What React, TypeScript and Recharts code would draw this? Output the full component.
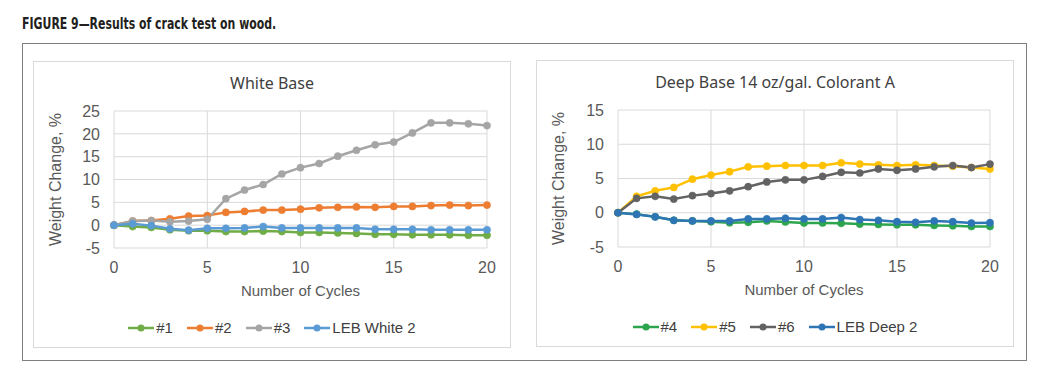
import { LineChart, Line, XAxis, YAxis, CartesianGrid, Label } from "recharts";

const cycles = [0, 1, 2, 3, 4, 5, 6, 7, 8, 9, 10, 11, 12, 13, 14, 15, 16, 17, 18, 19, 20];
const xTicks = [0, 5, 10, 15, 20];

// White Base
const white1 = [0, -0.3, -0.5, -1.0, -1.2, -1.2, -1.4, -1.4, -1.3, -1.4, -1.6, -1.6, -1.7, -1.8, -2.0, -2.0, -2.1, -2.1, -2.1, -2.2, -2.2];
const white2 = [0, 0.9, 1.0, 1.4, 2.0, 2.1, 2.8, 3.0, 3.3, 3.3, 3.5, 3.8, 3.9, 4.0, 3.9, 4.1, 4.1, 4.3, 4.4, 4.3, 4.4];
const white3 = [0, 0.9, 1.0, 0.75, 0.9, 1.3, 5.8, 7.7, 8.9, 11.2, 12.6, 13.5, 15.1, 16.4, 17.6, 18.2, 20.2, 22.4, 22.4, 22.2, 21.8];
const whiteLeb = [0, 0.3, -0.1, -0.8, -1.1, -0.7, -0.7, -0.6, -0.3, -0.6, -0.6, -0.6, -0.6, -0.6, -0.9, -0.9, -0.9, -1.0, -1.0, -1.0, -1.0];
const whiteTicks = [-5, 0, 5, 10, 15, 20, 25];

// Deep Base 14 oz/gal. Colorant A
const deep4 = [0, -0.2, -0.6, -1.1, -1.2, -1.3, -1.45, -1.4, -1.2, -1.35, -1.5, -1.5, -1.55, -1.65, -1.7, -1.75, -1.75, -1.85, -1.9, -2.0, -2.0];
const deep5 = [0, 2.4, 3.2, 3.7, 4.9, 5.5, 6.0, 6.7, 6.8, 6.9, 6.9, 6.9, 7.3, 7.1, 7.0, 6.9, 7.0, 6.9, 6.8, 6.6, 6.4];
const deep6 = [0, 2.1, 2.4, 2.0, 2.5, 2.8, 3.2, 3.8, 4.5, 4.8, 4.8, 5.3, 5.9, 5.8, 6.4, 6.2, 6.4, 6.7, 6.9, 6.6, 7.1];
const deepLeb = [0, -0.25, -0.6, -1.1, -1.2, -1.2, -1.2, -0.9, -0.9, -0.8, -0.9, -0.9, -0.7, -1.0, -1.1, -1.3, -1.4, -1.2, -1.3, -1.5, -1.45];
const deepTicks = [-5, 0, 5, 10, 15];

const FONT = '"Liberation Sans", Arial, sans-serif';
const TICK_COLOR = "#595959";

interface Series {
  key: string;
  name: string;
  color: string;
  values: number[];
}

const whiteSeries: Series[] = [
  { key: "s1", name: "#1", color: "#70ad47", values: white1 },
  { key: "s2", name: "#2", color: "#ed7d31", values: white2 },
  { key: "s3", name: "#3", color: "#a5a5a5", values: white3 },
  { key: "leb", name: "LEB White 2", color: "#5b9bd5", values: whiteLeb },
];

const deepSeries: Series[] = [
  { key: "s4", name: "#4", color: "#2da44e", values: deep4 },
  { key: "s5", name: "#5", color: "#ffc000", values: deep5 },
  { key: "s6", name: "#6", color: "#636363", values: deep6 },
  { key: "leb", name: "LEB Deep 2", color: "#2e75b6", values: deepLeb },
];

const buildRows = (series: Series[]) =>
  cycles.map((c, i) => {
    const row: Record<string, number> = { cycle: c };
    series.forEach((s) => (row[s.key] = s.values[i]));
    return row;
  });

const LegendRow = ({ series }: { series: Series[] }) => (
  <div style={{ display: "flex", justifyContent: "center", alignItems: "center", fontFamily: FONT, fontSize: 15, color: "#404040" }}>
    {series.map((s) => (
      <div key={s.key} style={{ display: "flex", alignItems: "center", margin: "0 7px" }}>
        <svg width={26} height={10}>
          <line x1={0} y1={5} x2={26} y2={5} stroke={s.color} strokeWidth={2.5} />
          <circle cx={13} cy={5} r={3.5} fill={s.color} />
        </svg>
        <span style={{ marginLeft: 2 }}>{s.name}</span>
      </div>
    ))}
  </div>
);

interface PanelProps {
  left: number;
  top: number;
  title: string;
  series: Series[];
  yDomain: [number, number];
  yTicks: number[];
  yWidth: number;
}

const Panel = ({ left, top, title, series, yDomain, yTicks, yWidth }: PanelProps) => {
  const rows = buildRows(series);
  return (
    <div
      style={{
        position: "absolute",
        left,
        top,
        width: 478,
        height: 287,
        border: "1px solid #d9d9d9",
        boxSizing: "border-box",
        background: "#fff",
      }}
    >
      <div
        style={{
          position: "absolute",
          left: 0,
          top: 10,
          width: "100%",
          textAlign: "center",
          fontFamily: '"Noto Sans", sans-serif',
          fontSize: 16,
          color: "#404040",
        }}
      >
        {title}
      </div>
      <div style={{ position: "absolute", left: 0, top: 0 }}>
        <LineChart width={476} height={285} data={rows} margin={{ top: 49, right: 23, bottom: 0, left: 0 }}>
          <CartesianGrid stroke="#d9d9d9" strokeWidth={1} vertical horizontal />
          <XAxis
            dataKey="cycle"
            type="number"
            domain={[0, 20]}
            ticks={xTicks}
            axisLine={false}
            tickLine={false}
            tickSize={0}
            tickMargin={14}
            height={99}
            tick={{ fill: TICK_COLOR, fontSize: 16, fontFamily: FONT }}
          >
            <Label
              content={(props: any) => {
                const vb = props.viewBox || {};
                return (
                  <text
                    x={vb.x + vb.width / 2}
                    y={vb.y + 48}
                    textAnchor="middle"
                    fill={TICK_COLOR}
                    fontSize={15}
                    fontFamily={FONT}
                  >
                    Number of Cycles
                  </text>
                );
              }}
            />
          </XAxis>
          <YAxis
            type="number"
            domain={yDomain}
            ticks={yTicks}
            interval={0}
            axisLine={false}
            tickLine={false}
            tickSize={0}
            tickMargin={14}
            width={yWidth}
            tick={{ fill: TICK_COLOR, fontSize: 16, fontFamily: FONT }}
          >
            <Label
              content={(props: any) => {
                const vb = props.viewBox || {};
                const cx = 27;
                const cy = vb.y + vb.height / 2;
                return (
                  <text
                    x={cx}
                    y={cy}
                    transform={`rotate(-90 ${cx} ${cy})`}
                    textAnchor="middle"
                    fill={TICK_COLOR}
                    fontSize={16}
                    fontFamily={FONT}
                  >
                    Weight Change, %
                  </text>
                );
              }}
            />
          </YAxis>
          {series.map((s) => (
            <Line
              key={s.key}
              dataKey={s.key}
              name={s.name}
              type="linear"
              stroke={s.color}
              strokeWidth={2.5}
              dot={{ r: 3.6, fill: s.color, stroke: s.color, strokeWidth: 0.5 }}
              activeDot={false}
              isAnimationActive={false}
            />
          ))}
        </LineChart>
      </div>
      <div style={{ position: "absolute", left: 0, top: 257, width: "100%" }}>
        <LegendRow series={series} />
      </div>
    </div>
  );
};

export default function App() {
  return (
    <div style={{ position: "absolute", left: 0, top: 0, width: 1050, height: 380, background: "#fff", overflow: "hidden" }}>
      <div
        style={{
          position: "absolute",
          left: 22,
          top: 16,
          fontFamily: '"Liberation Sans Narrow", "DejaVu Sans Condensed", sans-serif',
          fontWeight: 700,
          fontSize: 15,
          lineHeight: "17px",
          color: "#231f20",
          whiteSpace: "nowrap",
          transform: "scaleX(0.81)",
          transformOrigin: "0 0",
        }}
      >
        FIGURE 9—Results of crack test on wood.
      </div>
      <div
        style={{
          position: "absolute",
          left: 22,
          top: 43,
          width: 1005,
          height: 318,
          border: "1px solid #7f7f7f",
          boxSizing: "border-box",
        }}
      />
      <Panel
        left={33}
        top={61}
        title="White Base"
        series={whiteSeries}
        yDomain={[-5, 25]}
        yTicks={whiteTicks}
        yWidth={80}
      />
      <Panel
        left={536}
        top={60}
        title="Deep Base 14 oz/gal. Colorant A"
        series={deepSeries}
        yDomain={[-5, 15]}
        yTicks={deepTicks}
        yWidth={81}
      />
    </div>
  );
}
